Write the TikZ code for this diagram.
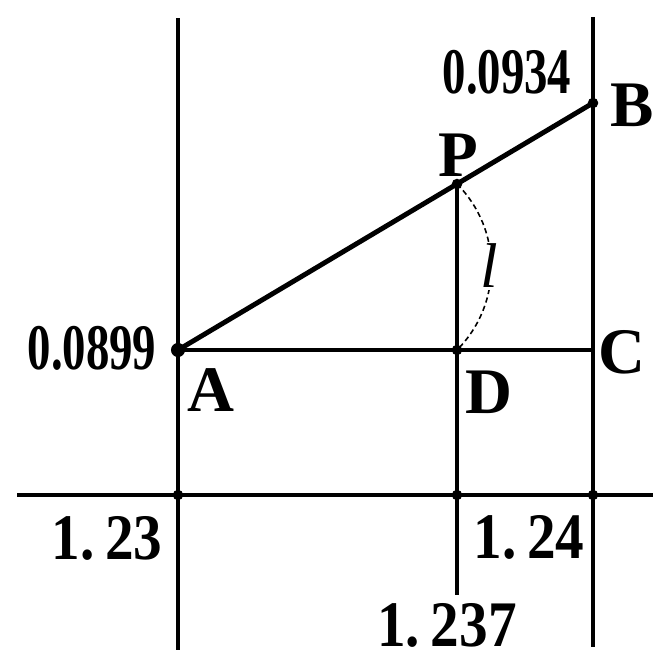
\documentclass[tikz,border=0pt]{standalone}
\usepackage{fontspec}
\setmainfont{Liberation Serif}
\newfontfamily\condnum[FakeStretch=0.72]{Liberation Serif}
\newfontfamily\widenum[FakeStretch=0.88]{Liberation Serif}
\usetikzlibrary{positioning}

\begin{document}
\begin{tikzpicture}[
    x=0.02cm, y=-0.02cm,
    axis/.style={line width=2.5pt, black},
    seg/.style={line width=2.8pt, black},
    guide/.style={densely dashed, line width=0.9pt},
    dot/.style={circle, fill=black, inner sep=0pt, minimum size=6pt},
    ptlabel/.style={inner sep=0pt, font=\fontsize{37}{44}\selectfont\bfseries},
    ylabel/.style={inner sep=0pt, font=\fontsize{37}{44}\selectfont\condnum\bfseries},
    xlabel/.style={inner sep=0pt, font=\fontsize{37}{44}\selectfont\widenum\bfseries}
]
\useasboundingbox (0,0) rectangle (653,660);

% points of the figure
\coordinate (A) at (178,350);
\coordinate (D) at (457,350);
\coordinate (C) at (593,350);
\coordinate (B) at (593,103);
\coordinate (P) at (457,184);

% grid lines
\coordinate (xl) at (17,495);
\coordinate (xr) at (653,495);
\coordinate (leftTop) at (178,18);
\coordinate (leftBot) at (178,650);
\coordinate (rightTop) at (593,17);
\coordinate (rightBot) at (593,647);
\coordinate (midBot) at (457,595);
\coordinate (X1) at (178,495);
\coordinate (X2) at (457,495);
\coordinate (X3) at (593,495);

\draw[axis] (xl) -- (xr);
\draw[axis] (leftTop) -- (leftBot);
\draw[axis] (rightTop) -- (rightBot);
\draw[axis] (P) -- (midBot);

\draw[seg] (A) -- (B);
\draw[seg] (A) -- (C);

\node[dot, minimum size=8pt] at (A) {};
\foreach \p in {B,P,D,X1,X2,X3}
  \node[dot] at (\p) {};

% the length l
\draw[guide] (P) to[bend left=45] (D);
\node[inner sep=1pt, fill=white, font=\fontsize{36}{44}\selectfont\itshape] (ell) at (489,266) {l};

% labels
\node[ptlabel] (labA) at (211,390) {A};
\node[ptlabel] (labB) at (632,105) {B};
\node[ptlabel] (labC) at (622,352) {C};
\node[ptlabel] (labD) at (489,392) {D};
\node[ptlabel] (labP) at (458,155) {P};

\node[ylabel] (yA) at (92,348) {0.0899};
\node[ylabel] (yB) at (507,72) {0.0934};

\node[xlabel] (x1) at (107,538) {1.\,23};
\node[xlabel] (x2) at (529,537) {1.\,24};
\node[xlabel] (x3) at (447,625) {1.\,237};
\end{tikzpicture}
\end{document}
